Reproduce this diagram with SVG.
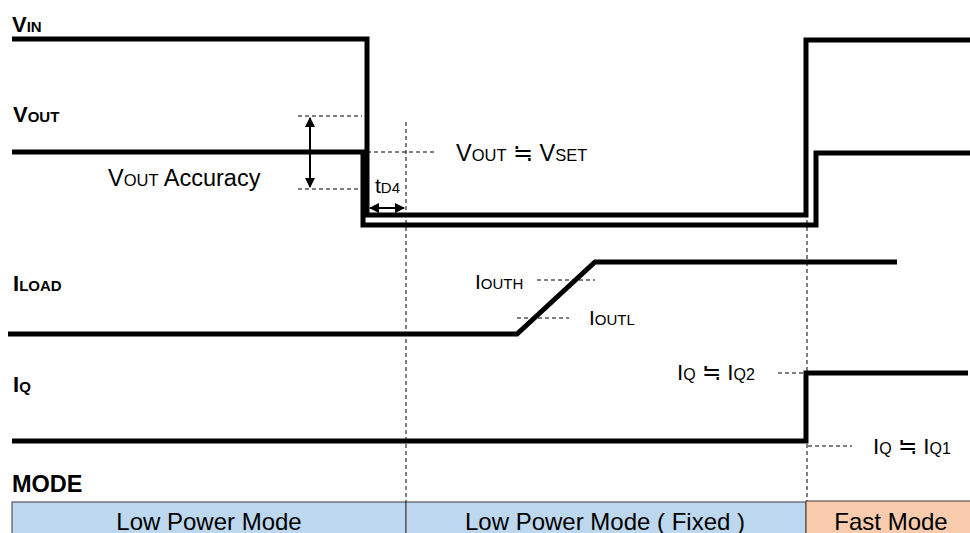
<svg xmlns="http://www.w3.org/2000/svg" width="970" height="533" viewBox="0 0 970 533">
<style>
text{font-family:"Liberation Sans","Noto Sans CJK JP",Arial,sans-serif;fill:#000}
.lbl{font-weight:bold;font-size:22px}
.lbl tspan.s{font-size:15px}
.t{font-size:21px}
.t tspan.s{font-size:15px}
.tb{font-size:23.5px}
.tb tspan.s{font-size:16.5px}
.tq{font-size:22.5px}
.tq tspan.s{font-size:16px}
.trace{fill:none;stroke:#000;stroke-width:5;stroke-linejoin:miter}
.dash{fill:none;stroke:#000;stroke-width:1;stroke-dasharray:4 3}
.arr{stroke:#000;stroke-width:2;marker-start:url(#ah);marker-end:url(#ah)}
.box{stroke:#3a3a3a;stroke-width:1}
.mt{font-size:24px;text-anchor:middle}
</style>
<defs>
<marker id="ah" viewBox="0 0 10 10" refX="9" refY="5" markerWidth="5" markerHeight="5" orient="auto-start-reverse" markerUnits="strokeWidth">
<path d="M0,0 L10,5 L0,10 z" fill="#000"/>
</marker>
</defs>
<rect width="970" height="533" fill="#fff"/>

<g id="labels">
<text class="lbl" x="12" y="32">V<tspan class="s">IN</tspan></text>
<text class="lbl" x="13" y="122">V<tspan class="s">OUT</tspan></text>
<text class="lbl" x="13" y="291">I<tspan class="s">LOAD</tspan></text>
<text class="lbl" x="13" y="392">I<tspan class="s">Q</tspan></text>
<text class="lbl" x="12" y="492" style="font-size:23.5px">MODE</text>
</g>

<g id="guides">
<line class="dash" x1="406" y1="122" x2="406" y2="502"/>
<line class="dash" x1="807" y1="220" x2="807" y2="502"/>
<line class="dash" x1="298" y1="116" x2="362" y2="116"/>
<line class="dash" x1="298" y1="189" x2="362" y2="189"/>
<line class="dash" x1="367" y1="152" x2="436" y2="152"/>
<line class="dash" x1="537" y1="280" x2="595" y2="280"/>
<line class="dash" x1="517" y1="318" x2="569" y2="318"/>
<line class="dash" x1="778" y1="373" x2="804" y2="373"/>
<line class="dash" x1="808" y1="446" x2="852" y2="446"/>
</g>

<g id="vin">
<polyline class="trace" points="12,39 367,39 367,215 806,215 806,40 970,40"/>
</g>
<g id="vout">
<polyline class="trace" points="12,152 363,152 363,225 816,225 816,153 970,153"/>
</g>
<g id="iload">
<polyline class="trace" points="8,334 517,334 595,262 897,262"/>
</g>
<g id="iq">
<polyline class="trace" points="12,441 806,441 806,373 968,373"/>
</g>

<g id="connectors">
<line class="arr" x1="310" y1="118" x2="310" y2="187"/>
<line class="arr" x1="370" y1="208" x2="404" y2="208"/>
</g>

<g id="annotations">
<text class="tb" x="108" y="186">V<tspan class="s">OUT</tspan> Accuracy</text>
<text class="t" x="375" y="193">t<tspan class="s">D4</tspan></text>
<text class="tb" x="456" y="161">V<tspan class="s">OUT</tspan> ≒ V<tspan class="s">SET</tspan></text>
<text class="t" x="475" y="289">I<tspan class="s">OUTH</tspan></text>
<text class="t" x="589" y="325">I<tspan class="s">OUTL</tspan></text>
<text class="tq" x="677" y="380">I<tspan class="s">Q</tspan> ≒ I<tspan class="s">Q2</tspan></text>
<text class="tq" x="873" y="454">I<tspan class="s">Q</tspan> ≒ I<tspan class="s">Q1</tspan></text>
</g>

<g id="mode-low">
<rect class="box" x="12" y="502" width="394" height="40" fill="#BDD7EE"/>
<text class="mt" x="209" y="530">Low Power Mode</text>
</g>
<g id="mode-fixed">
<rect class="box" x="406" y="502" width="400" height="40" fill="#BDD7EE"/>
<text class="mt" x="605" y="530">Low Power Mode ( Fixed )</text>
</g>
<g id="mode-fast">
<rect class="box" x="806" y="501" width="170" height="40" fill="#F8CBAD" stroke="#555"/>
<text class="mt" x="891" y="530">Fast Mode</text>
</g>
</svg>
